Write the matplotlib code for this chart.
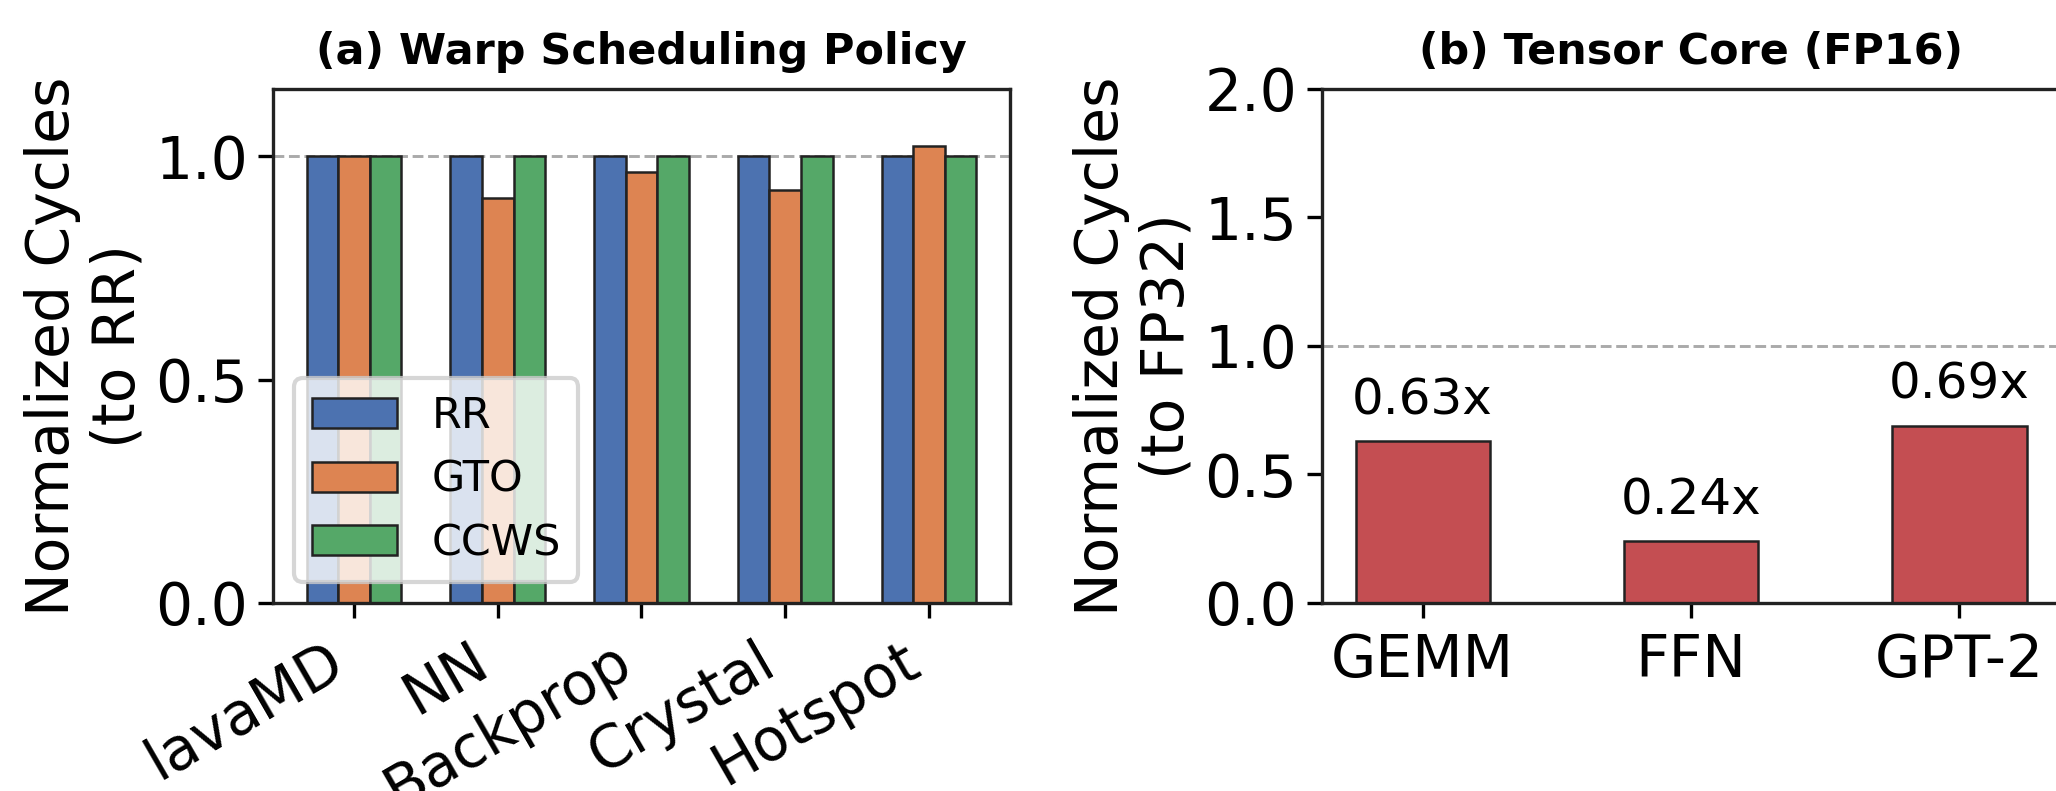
import matplotlib
matplotlib.use("Agg")
import matplotlib.pyplot as plt
import numpy as np

# (a) warp scheduling, cycles normalized to RR
benchmarks = ['lavaMD', 'NN', 'Backprop', 'Crystal', 'Hotspot']
policies = ['RR', 'GTO', 'CCWS']
rr_cycles = [1.0, 1.0, 1.0, 1.0, 1.0]
gto_cycles = [1.0, 0.905, 0.965, 0.925, 1.023]
ccws_cycles = [1.0, 1.0, 1.0, 1.0, 1.0]

# (b) tensor core FP16, cycles normalized to FP32
workloads = ['GEMM', 'FFN', 'GPT-2']
fp16_cycles = [0.63, 0.24, 0.69]

# seaborn "deep" colours
colors = ['#4C72B0', '#DD8452', '#55A868']
red = '#C44E52'

fig = plt.figure(figsize=(2056 / 300, 791 / 300), dpi=300)
ax1 = fig.add_axes([0.1328, 0.2377, 0.4912 - 0.1328, 0.8875 - 0.2377])
ax2 = fig.add_axes([0.643, 0.2377, 1.002 - 0.643, 0.8875 - 0.2377])

x = np.arange(len(benchmarks))
w = 0.22
for i, (name, vals) in enumerate(zip(policies, [rr_cycles, gto_cycles, ccws_cycles])):
    ax1.bar(x + (i - 1) * w, vals, w, label=name, color=colors[i],
            edgecolor='#222222', linewidth=0.6, zorder=2)
ax1.axhline(1.0, color='#aaaaaa', linestyle='--', linewidth=0.7, zorder=1)
ax1.set_xticks(x)
ax1.set_xticklabels(benchmarks, rotation=30, ha='right', fontsize=14)
ax1.set_ylim(0, 1.15)
ax1.set_yticks([0.0, 0.5, 1.0])
ax1.set_ylabel('Normalized Cycles\n(to RR)', fontsize=14, labelpad=2)
ax1.set_title('(a) Warp Scheduling Policy', fontsize=10.3, fontweight='bold')
ax1.legend(loc='lower left', fontsize=10.3)

x2 = np.arange(len(workloads))
bars = ax2.bar(x2, fp16_cycles, 0.5, color=red, edgecolor='#222222',
               linewidth=0.6, zorder=2)
ax2.bar_label(bars, labels=[f'{v:.2f}x' for v in fp16_cycles], padding=4, fontsize=12)
ax2.axhline(1.0, color='#aaaaaa', linestyle='--', linewidth=0.7, zorder=1)
ax2.set_xticks(x2)
ax2.set_xticklabels(workloads, fontsize=14)
ax2.set_ylim(0, 2.0)
ax2.set_yticks([0.0, 0.5, 1.0, 1.5, 2.0])
ax2.set_ylabel('Normalized Cycles\n(to FP32)', fontsize=14, labelpad=2)
ax2.set_title('(b) Tensor Core (FP16)', fontsize=10.3, fontweight='bold')

for ax in (ax1, ax2):
    ax.tick_params(axis='y', labelsize=14, pad=2.5)
    for s in ax.spines.values():
        s.set_color('#222222')
        s.set_linewidth(0.8)

fig.savefig('out.png', dpi=300)
